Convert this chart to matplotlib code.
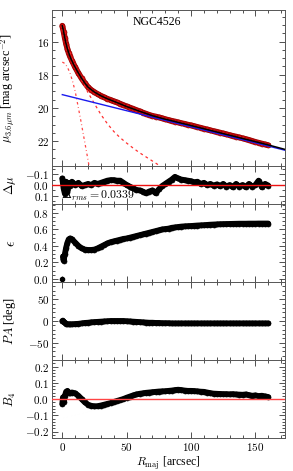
import matplotlib
matplotlib.use("Agg")
import matplotlib.pyplot as plt
import matplotlib.patheffects as pe
from matplotlib.ticker import MultipleLocator, FuncFormatter

# ---------------- data ----------------
r_prof = [0, 1, 2, 3, 4, 5, 6, 7.5, 10, 12.5, 15, 17.5, 20, 22.5, 25, 27.5, 30, 32.5, 35, 37.5,
          40, 42.5, 45, 47.5, 50, 52.5, 55, 57.5, 60, 62.5, 65, 67.5, 70, 72.5, 75, 77.5, 80,
          82.5, 85, 87.5, 90, 92.5, 95, 97.5, 100, 102.5, 105, 107.5, 110, 112.5, 115, 117.5,
          120, 122.5, 125, 127.5, 130, 132.5, 135, 137.5, 140, 142.5, 145, 147.5, 150, 152.5,
          155, 157.5, 160]
mu_obs = [15.05, 15.4, 15.8, 16.15, 16.45, 16.7, 16.9, 17.15, 17.55, 17.9, 18.22, 18.5, 18.75,
          18.92, 19.05, 19.17, 19.27, 19.36, 19.45, 19.52, 19.6, 19.67, 19.75, 19.83, 19.91,
          19.98, 20.05, 20.13, 20.2, 20.28, 20.35, 20.42, 20.48, 20.52, 20.57, 20.62, 20.68,
          20.73, 20.78, 20.82, 20.87, 20.92, 20.96, 21.01, 21.05, 21.1, 21.15, 21.2, 21.25,
          21.3, 21.35, 21.4, 21.44, 21.49, 21.54, 21.59, 21.64, 21.69, 21.73, 21.78, 21.83,
          21.88, 21.93, 21.99, 22.05, 22.1, 22.15, 22.2, 22.25]
dmu = [-0.06, 0.03, 0.08, -0.03, 0.06, -0.02, 0.01, -0.03, 0.0, -0.02, 0.01, 0.0, -0.01, 0.0,
       -0.02, -0.01, -0.02, -0.03, -0.04, -0.045, -0.045, -0.04, -0.04, -0.02, 0.0, 0.015,
       0.03, 0.045, 0.05, 0.06, 0.075, 0.06, 0.05, 0.075, 0.04, 0.01, -0.01, -0.03, -0.05,
       -0.075, -0.06, -0.05, -0.045, -0.04, -0.035, -0.025, -0.03, -0.01, -0.02, 0.0, -0.01,
       0.005, -0.005, 0.01, -0.01, 0.015, 0.0, 0.02, -0.01, 0.015, 0.0, 0.02, -0.01, 0.015,
       0.0, -0.04, 0.02, -0.01, 0.005]

# model components
r_total = [0, 1, 2, 3, 4, 6, 8, 10, 12.5, 15, 17.5, 20, 25, 30, 35, 40, 50, 60, 70, 80, 90,
           100, 120, 140, 160, 173]
mu_total = [15.05, 15.4, 15.8, 16.15, 16.45, 16.9, 17.25, 17.55, 17.9, 18.22, 18.5, 18.75,
            19.05, 19.27, 19.45, 19.6, 19.92, 20.2, 20.47, 20.68, 20.87, 21.06, 21.45, 21.84,
            22.23, 22.5]
r_disk = [0, 173]
mu_disk = [19.2, 22.55]
r_bulge = [0, 2.5, 5, 7.5, 10, 12.5, 15, 17.5, 20, 25, 30, 35, 40, 45, 50, 55, 60, 65, 70, 75, 77]
mu_bulge = [15.25, 15.9, 16.5, 17.0, 17.5, 17.9, 18.3, 18.7, 19.08, 19.75, 20.4, 20.95, 21.42,
            21.8, 22.12, 22.42, 22.7, 22.95, 23.2, 23.45, 23.55]
r_inner = [0, 2, 4, 6, 8, 10, 12, 14, 16, 18, 20, 21]
mu_inner = [17.24, 17.32, 17.55, 17.9, 18.4, 19.0, 19.8, 20.6, 21.45, 22.3, 23.15, 23.6]

# isophote parameters
r_iso = [0, 0.5, 1, 2, 3, 4, 5, 6, 7.5, 10, 12.5, 15, 17.5, 20, 22.5, 25, 27.5, 30, 32.5, 35,
         37.5, 40, 42.5, 45, 47.5, 50, 52.5, 55, 57.5, 60, 62.5, 65, 67.5, 70, 72.5, 75, 77.5,
         80, 82.5, 85, 87.5, 90, 92.5, 95, 97.5, 100, 102.5, 105, 107.5, 110, 112.5, 115, 117.5,
         120, 122.5, 125, 127.5, 130, 132.5, 135, 137.5, 140, 142.5, 145, 147.5, 150, 152.5,
         155, 157.5, 160]
ell = [0.0, 0.27, 0.22, 0.30, 0.38, 0.44, 0.48, 0.49, 0.48, 0.44, 0.40, 0.37, 0.355, 0.35, 0.35,
       0.355, 0.37, 0.39, 0.41, 0.43, 0.445, 0.455, 0.465, 0.475, 0.485, 0.49, 0.50, 0.51,
       0.52, 0.53, 0.54, 0.55, 0.56, 0.57, 0.58, 0.59, 0.60, 0.605, 0.61, 0.62, 0.625, 0.63,
       0.635, 0.638, 0.64, 0.642, 0.645, 0.648, 0.65, 0.652, 0.655, 0.658, 0.66, 0.662,
       0.664, 0.665, 0.666, 0.667, 0.668, 0.669, 0.67, 0.67, 0.67, 0.671, 0.671, 0.671,
       0.672, 0.672, 0.672, 0.672]
pa = [0, 1, -2, -4, -6, -7, -7.5, -7.5, -7.5, -7, -6.5, -5.5, -4.5, -4, -3, -2.5, -2, -1.5, -1,
      -0.5, 0, 0, 0, 0, 0, -0.5, -1, -1.5, -2, -2.5, -3, -3.5, -4, -4, -4.5, -4.5, -5, -5, -5,
      -5.5, -5.5, -5.5, -5.5, -5.5, -5.5, -5.5, -5.5, -5.5, -5.5, -5.5, -5.5, -5.5, -5.5, -5.5,
      -5.5, -5.5, -5.5, -5.5, -5.5, -5.5, -5.5, -5.5, -5.5, -5.5, -5.5, -5.5, -5.5, -5.5, -5.5,
      -5.5]
b4 = [-0.03, 0.01, -0.02, 0.02, 0.045, 0.05, 0.04, 0.035, 0.04, 0.035, 0.02, 0.0, -0.02,
      -0.035, -0.042, -0.045, -0.044, -0.04, -0.035, -0.03, -0.025, -0.018, -0.012, -0.006,
      0.0, 0.008, 0.015, 0.022, 0.028, 0.032, 0.035, 0.038, 0.04, 0.042, 0.044, 0.046, 0.047,
      0.048, 0.05, 0.052, 0.055, 0.057, 0.055, 0.052, 0.05, 0.05, 0.049, 0.047, 0.045, 0.044,
      0.04, 0.036, 0.033, 0.032, 0.031, 0.03, 0.03, 0.029, 0.03, 0.028, 0.027, 0.026, 0.028,
      0.024, 0.02, 0.022, 0.018, 0.02, 0.016, 0.012]

galaxy = "NGC4526"
rms_text = r"$\Delta_{rms}=0.0339$"

# ---------------- style ----------------
plt.rcParams["font.family"] = ["Liberation Serif", "DejaVu Serif"]
plt.rcParams["mathtext.fontset"] = "cm"

fig = plt.figure(figsize=(2.93, 4.71), dpi=100)
gs = fig.add_gridspec(5, 1, height_ratios=[156, 38, 78, 78, 78], hspace=0,
                      left=52 / 293, right=285 / 293, bottom=1 - 438 / 471, top=1 - 10 / 471)
axes = [fig.add_subplot(gs[i]) for i in range(5)]


def mk_fmt(decimals):
    def f(v, p):
        if abs(v) < 1e-9:
            v = 0.0
        s = ("%." + str(decimals) + "f") % v
        return r"$%s$" % s
    return FuncFormatter(f)


for ax in axes:
    ax.set_xlim(-8, 173)
    ax.xaxis.set_major_locator(MultipleLocator(50))
    ax.xaxis.set_minor_locator(MultipleLocator(10))
    ax.tick_params(which="both", direction="in", top=True, right=True, labelsize=8,
                   width=0.6, colors="#333333", labelcolor="black", pad=2)
    ax.tick_params(which="major", length=4)
    ax.tick_params(which="minor", length=2)
    for s in ax.spines.values():
        s.set_linewidth(0.7)
        s.set_color("#555555")
    if ax is not axes[-1]:
        ax.tick_params(labelbottom=False)
    ax.yaxis.set_label_coords(-0.145, 0.5)


def band(ax, x, y, face, edge, z=2):
    ax.plot(x, y, color=face, lw=3.2, solid_capstyle="round", zorder=z,
            path_effects=[pe.Stroke(linewidth=4.2, foreground=edge), pe.Normal()])
    ax.plot(x, y, ls="none", marker="o", ms=3.6, mfc=face, mec=edge, mew=0.5, zorder=z)


# panel 1: surface brightness
ax = axes[0]
band(ax, r_prof, mu_obs, "#dd1111", "#9a0000")
ax.plot(r_inner, mu_inner, color="#ff4444", lw=0.9, ls=(0, (2, 2.2, 0.6, 2.2)), zorder=3)
ax.plot(r_bulge, mu_bulge, color="#ff3030", lw=0.9, ls=(0, (2.2, 2.6)), zorder=3)
ax.plot(r_disk, mu_disk, color="#1a1aee", lw=1.0, zorder=3)
ax.plot(r_total, mu_total, color="black", lw=1.1, zorder=4)
ax.set_ylim(23.5, 14.1)
ax.yaxis.set_major_locator(MultipleLocator(2))
ax.yaxis.set_minor_locator(MultipleLocator(0.5))
ax.yaxis.set_major_formatter(mk_fmt(0))
ax.set_ylabel(r"$\mu_{3.6\mu m}$ [mag arcsec$^{-2}$]", fontsize=8.7)
ax.text(0.45, 0.92, galaxy, transform=ax.transAxes, ha="center", va="center", fontsize=8.5)

# panel 2: residuals
ax = axes[1]
band(ax, r_prof, dmu, "black", "black")
ax.axhline(0, color="#ee1111", lw=1.0, zorder=3)
ax.set_ylim(0.175, -0.175)
ax.yaxis.set_major_locator(MultipleLocator(0.1))
ax.yaxis.set_minor_locator(MultipleLocator(0.05))
ax.yaxis.set_major_formatter(mk_fmt(1))
ax.set_ylabel(r"$\Delta\mu$", fontsize=9)
ax.text(0.04, 0.22, rms_text, transform=ax.transAxes, ha="left", va="center", fontsize=8.5,
        zorder=1)

# panel 3: ellipticity
ax = axes[2]
ax.plot(r_iso[:1], ell[:1], ls="none", marker="o", ms=3, color="black")
band(ax, r_iso[1:], ell[1:], "black", "black")
ax.set_ylim(-0.04, 0.91)
ax.yaxis.set_major_locator(MultipleLocator(0.2))
ax.yaxis.set_minor_locator(MultipleLocator(0.05))
ax.yaxis.set_major_formatter(mk_fmt(1))
ax.set_ylabel(r"$\epsilon$", fontsize=10)

# panel 4: position angle
ax = axes[3]
band(ax, r_iso, pa, "black", "black")
ax.set_ylim(-90, 90)
ax.yaxis.set_major_locator(MultipleLocator(50))
ax.yaxis.set_minor_locator(MultipleLocator(10))
ax.yaxis.set_major_formatter(mk_fmt(0))
ax.set_ylabel(r"$PA$ [deg]", fontsize=9)

# panel 5: B4
ax = axes[4]
band(ax, r_iso, b4, "black", "black")
ax.axhline(0, color="#ff4444", lw=1.0, zorder=3)
ax.set_ylim(-0.24, 0.24)
ax.yaxis.set_major_locator(MultipleLocator(0.1))
ax.yaxis.set_minor_locator(MultipleLocator(0.02))
ax.yaxis.set_major_formatter(mk_fmt(1))
ax.xaxis.set_major_formatter(mk_fmt(0))
ax.set_ylabel(r"$B_4$", fontsize=9)
ax.set_xlabel(r"$R_{\rm maj}$ [arcsec]", fontsize=8.5, labelpad=1)

fig.savefig("out.png", dpi=100)
